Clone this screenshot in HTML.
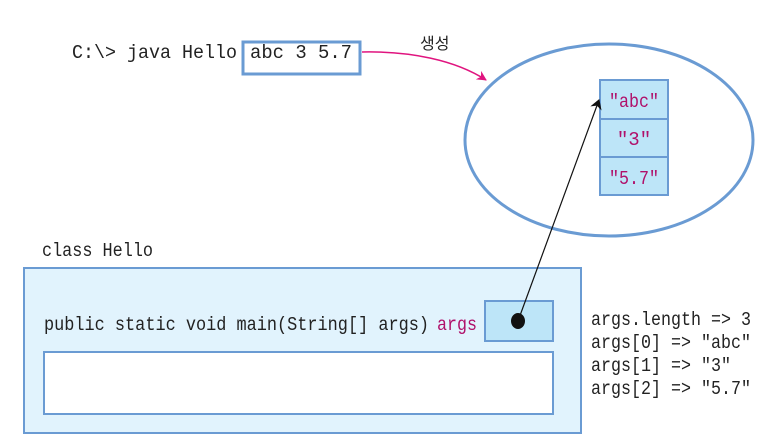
<!DOCTYPE html>
<html><head><meta charset="utf-8"><style>
html,body{margin:0;padding:0;background:#fff;}
svg{display:block;}
text{font-family:"Liberation Mono","Noto Sans CJK KR",monospace;font-size:19px;fill:#222;}
</style></head><body>
<svg width="773" height="448" viewBox="0 0 773 448" xmlns="http://www.w3.org/2000/svg">
<defs>
<marker id="pk" markerWidth="10" markerHeight="10" refX="9" refY="5" orient="auto" markerUnits="userSpaceOnUse"><path d="M0,0 L10,5 L0,10 L3,5 z" fill="#e0147f"/></marker>
<marker id="bk" markerWidth="10" markerHeight="12" refX="9" refY="6" orient="auto" markerUnits="userSpaceOnUse"><path d="M0,0 L10,6 L0,12 L3,6 z" fill="#111"/></marker>
</defs>
<text x="72" y="58" textLength="165" lengthAdjust="spacingAndGlyphs">C:\&gt; java Hello</text>
<rect x="243" y="42" width="117" height="32" fill="#fff" stroke="#6a9bd3" stroke-width="3"/>
<text x="250" y="58" textLength="102" lengthAdjust="spacingAndGlyphs">abc 3 5.7</text>
<path d="M362,52 C410,51 455,60 486,80" fill="none" stroke="#e0147f" stroke-width="1.5" marker-end="url(#pk)"/>
<text x="420" y="49" style="font-family:'Noto Sans CJK KR',sans-serif;font-size:16px">생성</text>
<ellipse cx="609" cy="140" rx="144" ry="96" fill="#fff" stroke="#6a9bd3" stroke-width="3"/>
<rect x="600" y="80" width="68" height="39" fill="#bde5f8" stroke="#6a9bd3" stroke-width="2"/>
<rect x="600" y="119" width="68" height="38" fill="#bde5f8" stroke="#6a9bd3" stroke-width="2"/>
<rect x="600" y="157" width="68" height="38" fill="#bde5f8" stroke="#6a9bd3" stroke-width="2"/>
<text x="634" y="107" text-anchor="middle" textLength="50" lengthAdjust="spacingAndGlyphs" style="fill:#b0106a">"abc"</text>
<text x="634" y="145" text-anchor="middle" style="fill:#b0106a">"3"</text>
<text x="634" y="184" text-anchor="middle" textLength="50" lengthAdjust="spacingAndGlyphs" style="fill:#b0106a">"5.7"</text>
<text x="42" y="256" textLength="111" lengthAdjust="spacingAndGlyphs">class Hello</text>
<rect x="24" y="268" width="557" height="165" fill="#e1f3fd" stroke="#6a9bd3" stroke-width="2"/>
<rect x="485" y="301" width="68" height="40" fill="#bde5f8" stroke="#6a9bd3" stroke-width="2"/>
<rect x="44" y="352" width="509" height="62" fill="#fff" stroke="#6a9bd3" stroke-width="2"/>
<text x="44" y="330" textLength="385" lengthAdjust="spacingAndGlyphs">public static void main(String[] args)</text>
<text x="437" y="330" textLength="40" lengthAdjust="spacingAndGlyphs" style="fill:#b0106a">args</text>
<line x1="518" y1="321" x2="599" y2="100" stroke="#111" stroke-width="1.2" marker-end="url(#bk)"/>
<ellipse cx="518" cy="321" rx="7" ry="8" fill="#111"/>
<text x="591" y="325" textLength="160" lengthAdjust="spacingAndGlyphs">args.length =&gt; 3</text>
<text x="591" y="348" textLength="160" lengthAdjust="spacingAndGlyphs">args[0] =&gt; "abc"</text>
<text x="591" y="371" textLength="140" lengthAdjust="spacingAndGlyphs">args[1] =&gt; "3"</text>
<text x="591" y="394" textLength="160" lengthAdjust="spacingAndGlyphs">args[2] =&gt; "5.7"</text>
</svg>
</body></html>
